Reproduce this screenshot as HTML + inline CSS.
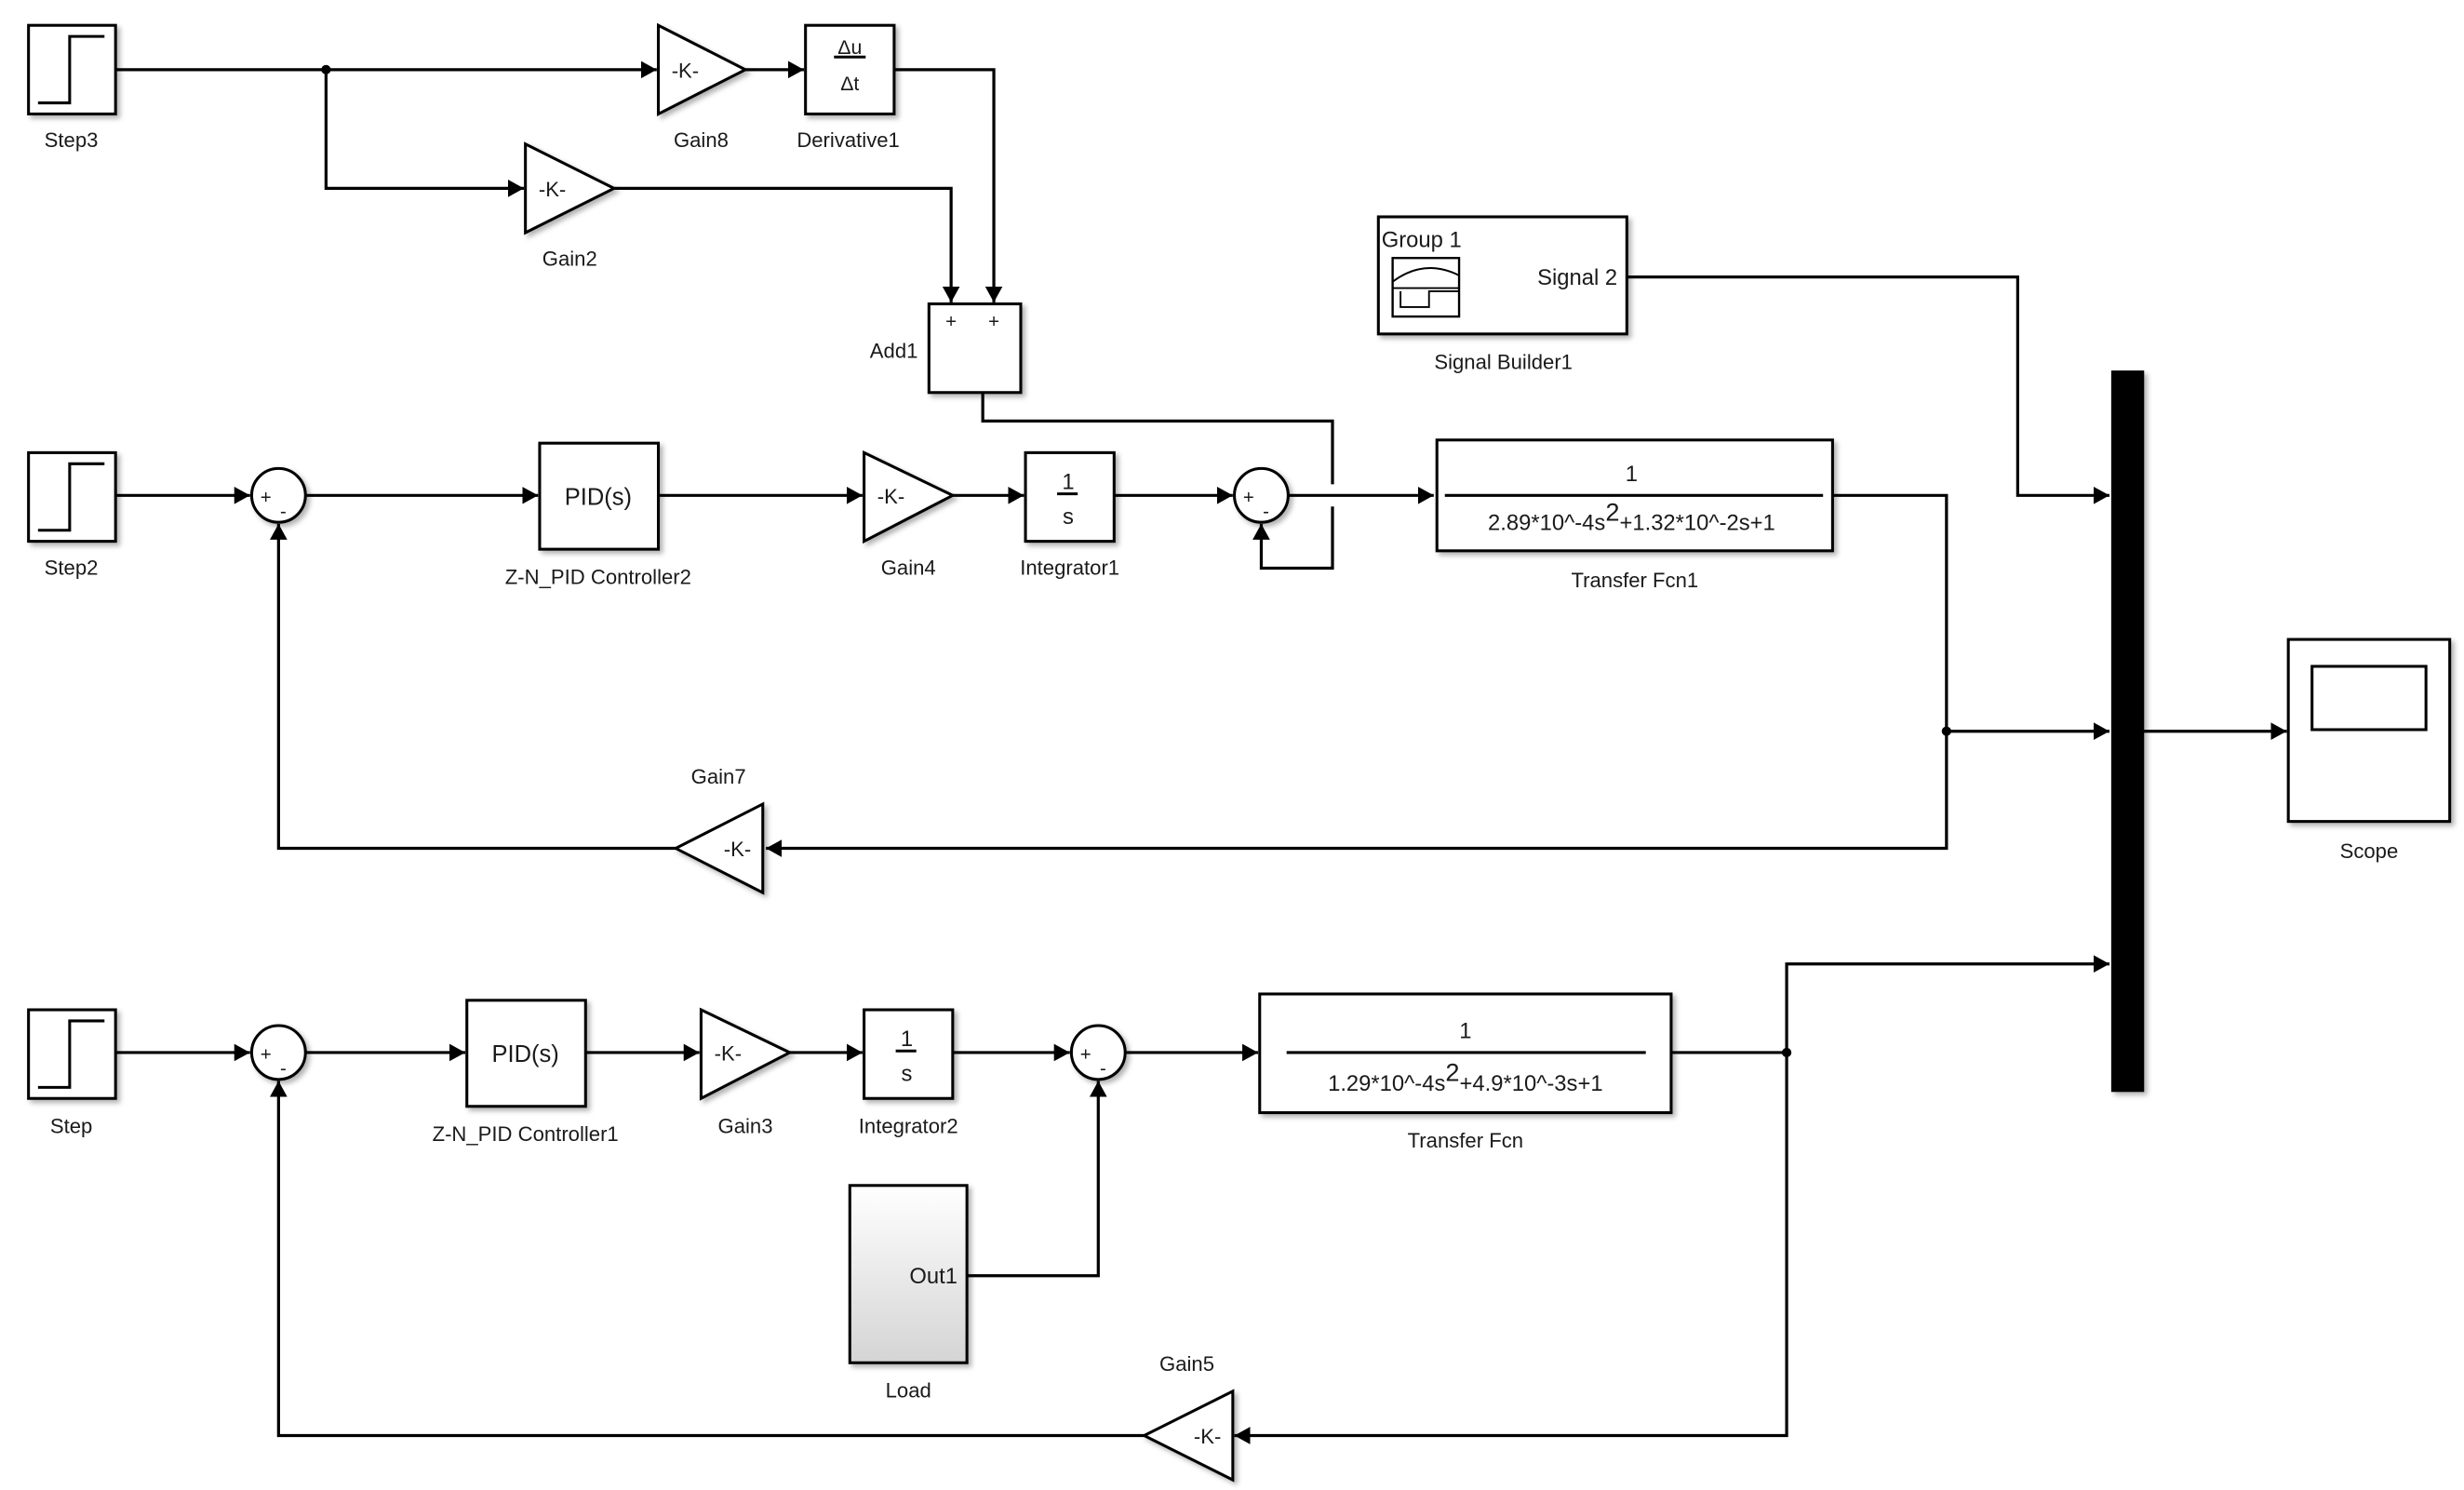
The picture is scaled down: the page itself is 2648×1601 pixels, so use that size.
<!DOCTYPE html>
<html><head><meta charset="utf-8"><style>
html,body{margin:0;padding:0;background:#fff;width:2648px;height:1601px;overflow:hidden}
svg{display:block}
text{font-family:"Liberation Sans",Arial,sans-serif;fill:#1a1a1a}
</style></head><body>
<svg width="2648" height="1601" viewBox="0 0 1557 941.4" xmlns="http://www.w3.org/2000/svg">
<defs>
<marker id="a" markerUnits="userSpaceOnUse" markerWidth="12" markerHeight="12" refX="10" refY="6" orient="auto"><path d="M0,0.5 L10,6 L0,11.5 Z" fill="#000"/></marker>
<filter id="sh" x="-10%" y="-10%" width="130%" height="130%"><feDropShadow dx="2" dy="2" stdDeviation="1.5" flood-color="#000" flood-opacity="0.3"/></filter>
<linearGradient id="lg" x1="0" y1="0" x2="0" y2="1"><stop offset="0" stop-color="#fff"/><stop offset="1" stop-color="#d4d4d4"/></linearGradient>
</defs>
<g fill="none" stroke="#000" stroke-width="1.9">
<path d="M73,44 H415" marker-end="url(#a)"/>
<path d="M206,44 V119 H331" marker-end="url(#a)"/>
<path d="M471,44 H508" marker-end="url(#a)"/>
<path d="M565,44 H628 V191" marker-end="url(#a)"/>
<path d="M388,119 H601 V191" marker-end="url(#a)"/>
<path d="M621,248 V266 H842 V306 M842,320 V359 H797 V331" marker-end="url(#a)"/>
<path d="M73,313 H158" marker-end="url(#a)"/>
<path d="M193,313 H340" marker-end="url(#a)"/>
<path d="M416,313 H545" marker-end="url(#a)"/>
<path d="M602,313 H647" marker-end="url(#a)"/>
<path d="M704,313 H779" marker-end="url(#a)"/>
<path d="M814,313 H906" marker-end="url(#a)"/>
<path d="M1158,313 H1230 V536 H484" marker-end="url(#a)"/>
<path d="M1230,462 H1333" marker-end="url(#a)"/>
<path d="M427,536 H176 V331" marker-end="url(#a)"/>
<path d="M1028,175 H1275 V313 H1333" marker-end="url(#a)"/>
<path d="M1354,462 H1445" marker-end="url(#a)"/>
<path d="M73,665 H158" marker-end="url(#a)"/>
<path d="M193,665 H294" marker-end="url(#a)"/>
<path d="M370,665 H442" marker-end="url(#a)"/>
<path d="M499,665 H545" marker-end="url(#a)"/>
<path d="M602,665 H676" marker-end="url(#a)"/>
<path d="M611,806 H694 V683" marker-end="url(#a)"/>
<path d="M711,665 H795" marker-end="url(#a)"/>
<path d="M1056,665 H1129 V907 H780" marker-end="url(#a)"/>
<path d="M1129,665 V609 H1333" marker-end="url(#a)"/>
<path d="M723,907 H176 V683" marker-end="url(#a)"/>
</g>
<g fill="#000"><circle cx="206" cy="44" r="3"/><circle cx="1230" cy="462" r="3"/><circle cx="1129" cy="665" r="3"/></g>

<g fill="#fff" stroke="#000" stroke-width="1.8" filter="url(#sh)">
<rect x="18" y="16" width="55" height="56"/>
<rect x="18" y="286" width="55" height="56"/>
<rect x="18" y="638" width="55" height="56"/>
<polygon points="416,16 471,44 416,72"/>
<rect x="509" y="16" width="56" height="56"/>
<polygon points="332,91 388,119 332,147"/>
<rect x="587" y="192" width="58" height="56"/>
<circle cx="176" cy="313" r="17"/>
<rect x="341" y="280" width="75" height="67"/>
<polygon points="546,286 602,313 546,342"/>
<rect x="648" y="286" width="56" height="56"/>
<circle cx="797" cy="313" r="17"/>
<rect x="908" y="278" width="250" height="70"/>
<rect x="871" y="137" width="157" height="74"/>
<polygon points="482,508 427,536 482,564"/>
<rect x="1446" y="404" width="102" height="115"/>
<circle cx="176" cy="665" r="17"/>
<rect x="295" y="632" width="75" height="67"/>
<polygon points="443,638 499,665 443,694"/>
<rect x="546" y="638" width="56" height="56"/>
<circle cx="694" cy="665" r="17"/>
<rect x="537" y="749" width="74" height="112" fill="url(#lg)"/>
<rect x="796" y="628" width="260" height="75"/>
<polygon points="779,879 723,907 779,935"/>
<rect x="1335" y="235" width="19" height="454" fill="#000"/>
</g>
<g fill="none" stroke="#000" stroke-width="1.8">
<path d="M24,65 H44 V23 H66"/><path d="M24,335 H44 V293 H66"/><path d="M24,687 H44 V645 H66"/>
<path d="M527,36 H547"/>
<path d="M913,313 H1152"/><path d="M813,665 H1040"/>
<path d="M668,312 H681"/><path d="M566,664 H579"/>
<rect x="1461" y="421" width="72" height="40"/>
<rect x="880" y="163" width="42" height="37" stroke-width="1.4"/>
<path d="M880,182 H922 M880,178 Q900,163 922,174 M885,184 V194 H903 V184 H922" stroke-width="1.1"/>
</g>
<g font-size="13" text-anchor="middle">
<text x="45" y="93">Step3</text>
<text x="443" y="93">Gain8</text>
<text x="536" y="93">Derivative1</text>
<text x="360" y="168">Gain2</text>
<text x="580" y="226" text-anchor="end">Add1</text>
<text x="601" y="207" font-size="12">+</text><text x="628" y="207" font-size="12">+</text>
<text x="45" y="363">Step2</text>
<text x="378" y="369">Z-N_PID Controller2</text>
<text x="574" y="363">Gain4</text>
<text x="676" y="363">Integrator1</text>
<text x="1033" y="371">Transfer Fcn1</text>
<text x="950" y="233">Signal Builder1</text>
<text x="454" y="495">Gain7</text>
<text x="1497" y="542">Scope</text>
<text x="45" y="716">Step</text>
<text x="332" y="721">Z-N_PID Controller1</text>
<text x="471" y="716">Gain3</text>
<text x="574" y="716">Integrator2</text>
<text x="926" y="725">Transfer Fcn</text>
<text x="574" y="883">Load</text>
<text x="750" y="866">Gain5</text>
<text x="433" y="49">-K-</text>
<text x="349" y="124">-K-</text>
<text x="563" y="318">-K-</text>
<text x="460" y="670">-K-</text>
<text x="466" y="541">-K-</text>
<text x="763" y="912">-K-</text>
<text x="378" y="319" font-size="15">PID(s)</text>
<text x="332" y="671" font-size="15">PID(s)</text>
<text x="537" y="34" font-size="12.5">Δu</text>
<text x="537" y="57" font-size="12.5">Δt</text>
<text x="675" y="309" font-size="14">1</text><text x="675" y="331" font-size="14">s</text>
<text x="573" y="661" font-size="14">1</text><text x="573" y="683" font-size="14">s</text>
<text x="1031" y="304" font-size="14">1</text>
<text x="1031" y="335" font-size="14">2.89*10^-4s<tspan dy="-6" font-size="16">2</tspan><tspan dy="6">+1.32*10^-2s+1</tspan></text>
<text x="926" y="656" font-size="14">1</text>
<text x="926" y="689" font-size="14">1.29*10^-4s<tspan dy="-6" font-size="16">2</tspan><tspan dy="6">+4.9*10^-3s+1</tspan></text>
<text x="873" y="156" text-anchor="start" font-size="14">Group 1</text>
<text x="1022" y="180" text-anchor="end" font-size="14">Signal 2</text>
<text x="605" y="811" text-anchor="end" font-size="14">Out1</text>
<g font-size="12"><text x="168" y="318">+</text><text x="179" y="327">-</text>
<text x="789" y="318">+</text><text x="800" y="327">-</text>
<text x="168" y="670">+</text><text x="179" y="679">-</text>
<text x="686" y="670">+</text><text x="697" y="679">-</text></g>
</g>
</svg>
</body></html>
